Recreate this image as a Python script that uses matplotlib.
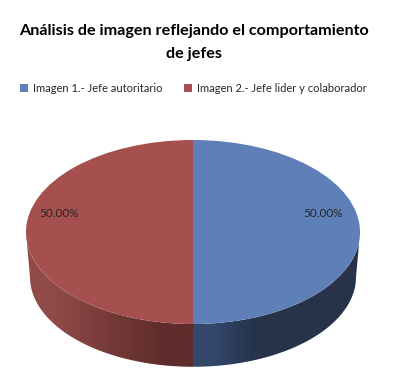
import numpy as np
import matplotlib
matplotlib.use("Agg")
import matplotlib.pyplot as plt
from matplotlib.colors import to_rgb
from matplotlib.patches import Polygon

# Datos del grafico
categorias = ["Imagen 1.- Jefe autoritario", "Imagen 2.- Jefe lider y colaborador"]
valores = [50.0, 50.0]
titulo = "Análisis de imagen reflejando el comportamiento\nde jefes"

colores = ["#5F7FB8", "#A54F4E"]
# tonos del lateral, de izquierda a derecha en cada porcion
lateral = [["#33476A", "#263349", "#263349", "#263349"], ["#904B49", "#753A38", "#5F2C2B"]]

W, H = 398, 380
fig = plt.figure(figsize=(W / 100, H / 100), dpi=100, facecolor="white")
plt.rcParams["font.family"] = ["Lato", "DejaVu Sans"]

# la elipse superior es un circulo unidad en unos ejes achatados,
# con sitio debajo para el lateral
ax = fig.add_axes([26 / W, 1 - 370 / H, 334 / W, 230 / H])

wedges, _, autotexts = ax.pie(valores, colors=colores, startangle=90, counterclock=False,
                              radius=1, autopct="%.2f%%", wedgeprops={"linewidth": 0, "zorder": 3},
                              textprops={"fontsize": 8.5, "color": "#262626"})

# etiquetas
autotexts[0].set_position((0.78, 0.2))
autotexts[1].set_position((-0.8, 0.2))
for t in autotexts:
    t.set_zorder(5)

# lateral del disco, a partir de los angulos de cada porcion
fondo = 0.489
escala = 0.976
acum = np.cumsum(valores) / np.sum(valores) * 360
inicio = 90 - np.concatenate(([0], acum[:-1]))
fin = 90 - acum
for i in range(len(valores)):
    angs = np.radians(np.linspace(inicio[i], fin[i], 300))
    angs = angs[np.sin(angs) <= 0]
    x_top, y_top = np.cos(angs), np.sin(angs)
    x_bot, y_bot = escala * x_top, escala * y_top - fondo
    pts = np.column_stack([np.r_[x_top, x_bot[::-1]], np.r_[y_top, y_bot[::-1]]])
    x0, x1 = pts[:, 0].min(), pts[:, 0].max()
    grad = np.array([[to_rgb(c) for c in lateral[i]]])
    img = ax.imshow(grad, extent=(x0, x1, -1.5, 0), aspect="auto", interpolation="bilinear", zorder=1)
    img.set_clip_path(Polygon(pts, transform=ax.transData))

ax.set_aspect("auto")
ax.set_xlim(-1, 1)
ax.set_ylim(-1.5, 1)

# titulo
fig.text(193.5 / W, 1 - 42.5 / H, titulo, ha="center", va="center", fontsize=11.6,
         fontweight="bold", color="black", linespacing=1.85)

# leyenda
fig.legend(wedges, categorias, loc="center", bbox_to_anchor=(193.5 / W, 1 - 88 / H), ncol=2, frameon=False,
           fontsize=8, handlelength=0.75, handleheight=0.75, handletextpad=0.45, columnspacing=1.9,
           labelcolor="#262626")

fig.savefig("out.png", dpi=100)
